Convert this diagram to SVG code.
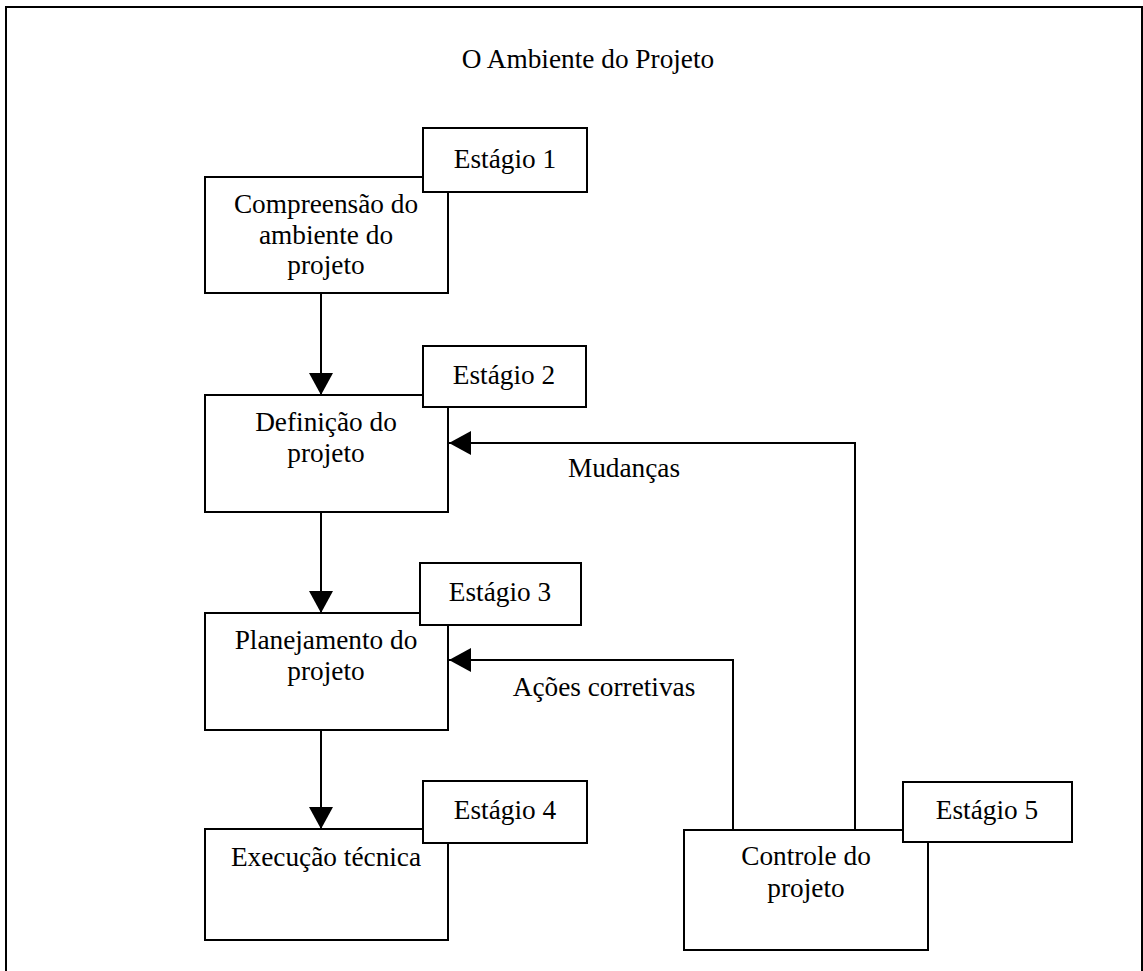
<svg xmlns="http://www.w3.org/2000/svg" width="1143" height="971" viewBox="0 0 1143 971">
  <style>
    .box { fill: #ffffff; stroke: #000000; stroke-width: 2; }
    .frame { fill: none; stroke: #000000; stroke-width: 2; }
    .link { fill: none; stroke: #000000; stroke-width: 2; }
    text { font-family: "Liberation Serif", "Times New Roman", serif; font-size: 27.3px; fill: #000000; text-anchor: middle; }
  </style>
  <defs>
    <marker id="head" markerUnits="userSpaceOnUse" markerWidth="24" markerHeight="24" refX="22" refY="12" orient="auto">
      <polygon points="0,0 22,12 0,24" fill="#000000"/>
    </marker>
  </defs>

  <rect id="frame" class="frame" x="6" y="7" width="1136" height="990"/>
  <text id="title" x="588" y="68">O Ambiente do Projeto</text>

  <g id="connectors">
    <line class="link" x1="321" y1="293" x2="321" y2="395" marker-end="url(#head)"/>
    <line class="link" x1="321" y1="512" x2="321" y2="613" marker-end="url(#head)"/>
    <line class="link" x1="321" y1="730" x2="321" y2="829" marker-end="url(#head)"/>
    <polyline class="link" points="855,830 855,443 449,443" marker-end="url(#head)"/>
    <polyline class="link" points="733,830 733,660 449,660" marker-end="url(#head)"/>
    <text x="624" y="477">Mudanças</text>
    <text x="604" y="696">Ações corretivas</text>
  </g>

  <g id="stage1">
    <rect class="box" x="205" y="177" width="243" height="116"/>
    <rect class="box" x="423" y="128" width="164" height="64"/>
    <text x="505" y="168">Estágio 1</text>
    <text x="326" y="213">Compreensão do</text>
    <text x="326" y="244">ambiente do</text>
    <text x="326" y="274">projeto</text>
  </g>

  <g id="stage2">
    <rect class="box" x="205" y="395" width="243" height="117"/>
    <rect class="box" x="423" y="346" width="163" height="61"/>
    <text x="504" y="384">Estágio 2</text>
    <text x="326" y="431">Definição do</text>
    <text x="326" y="462">projeto</text>
  </g>

  <g id="stage3">
    <rect class="box" x="205" y="613" width="243" height="117"/>
    <rect class="box" x="420" y="563" width="161" height="62"/>
    <text x="500" y="601">Estágio 3</text>
    <text x="326" y="649">Planejamento do</text>
    <text x="326" y="680">projeto</text>
  </g>

  <g id="stage4">
    <rect class="box" x="205" y="829" width="243" height="111"/>
    <rect class="box" x="423" y="781" width="164" height="62"/>
    <text x="505" y="819">Estágio 4</text>
    <text x="326" y="866">Execução técnica</text>
  </g>

  <g id="stage5">
    <rect class="box" x="684" y="830" width="244" height="120"/>
    <rect class="box" x="903" y="782" width="169" height="60"/>
    <text x="987" y="819">Estágio 5</text>
    <text x="806" y="865">Controle do</text>
    <text x="806" y="897">projeto</text>
  </g>
</svg>
